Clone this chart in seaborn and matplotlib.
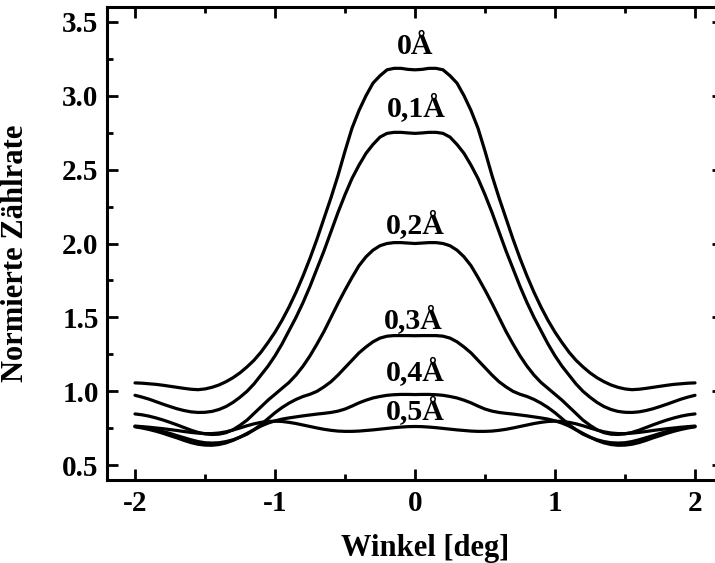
import numpy as np
import pandas as pd
import matplotlib
matplotlib.use("Agg")
import matplotlib.pyplot as plt
import seaborn as sns
from matplotlib.ticker import MultipleLocator

# ---------------- data ----------------
angle = [round(-2.0 + 0.05 * i, 2) for i in range(81)]

amp_labels = ["0Å", "0,1Å", "0,2Å", "0,3Å", "0,4Å", "0,5Å"]

rate_00 = [1.057, 1.055, 1.051, 1.047, 1.041, 1.034, 1.027, 1.02, 1.014, 1.011,
           1.016, 1.027, 1.043, 1.065, 1.092, 1.125, 1.165, 1.21, 1.265, 1.33,
           1.40, 1.48, 1.57, 1.67, 1.78, 1.90, 2.03, 2.17, 2.31, 2.46,
           2.625, 2.78, 2.90, 3.00, 3.085, 3.135, 3.175, 3.185, 3.185, 3.178,
           3.175,
           3.178, 3.185, 3.185, 3.175, 3.135, 3.085, 3.00, 2.90, 2.78, 2.625,
           2.46, 2.31, 2.17, 2.03, 1.90, 1.78, 1.67, 1.57, 1.48, 1.40,
           1.33, 1.265, 1.21, 1.165, 1.125, 1.092, 1.065, 1.043, 1.027, 1.016,
           1.011, 1.014, 1.02, 1.027, 1.034, 1.041, 1.047, 1.051, 1.055, 1.057]
rate_01 = [0.973, 0.961, 0.947, 0.93, 0.913, 0.897, 0.882, 0.87, 0.861, 0.857,
           0.858, 0.864, 0.877, 0.897, 0.925, 0.96, 1.00, 1.05, 1.11, 1.17,
           1.24, 1.32, 1.41, 1.50, 1.60, 1.71, 1.83, 1.95, 2.08, 2.21,
           2.33, 2.44, 2.53, 2.61, 2.67, 2.72, 2.745, 2.752, 2.752, 2.748,
           2.745,
           2.748, 2.752, 2.752, 2.745, 2.72, 2.67, 2.61, 2.53, 2.44, 2.33,
           2.21, 2.08, 1.95, 1.83, 1.71, 1.60, 1.50, 1.41, 1.32, 1.24,
           1.17, 1.11, 1.05, 1.00, 0.96, 0.925, 0.897, 0.877, 0.864, 0.858,
           0.857, 0.861, 0.87, 0.882, 0.897, 0.913, 0.93, 0.947, 0.961, 0.973]
rate_02 = [0.847, 0.841, 0.832, 0.82, 0.806, 0.79, 0.773, 0.755, 0.737, 0.722,
           0.712, 0.708, 0.71, 0.72, 0.74, 0.77, 0.805, 0.85, 0.895, 0.94,
           0.98, 1.02, 1.06, 1.11, 1.17, 1.24, 1.32, 1.405, 1.50, 1.595,
           1.685, 1.77, 1.85, 1.91, 1.955, 1.985, 2.0, 2.006, 2.006, 2.003,
           2.0,
           2.003, 2.006, 2.006, 2.0, 1.985, 1.955, 1.91, 1.85, 1.77, 1.685,
           1.595, 1.50, 1.405, 1.32, 1.24, 1.17, 1.11, 1.06, 1.02, 0.98,
           0.94, 0.895, 0.85, 0.805, 0.77, 0.74, 0.72, 0.71, 0.708, 0.712,
           0.722, 0.737, 0.755, 0.773, 0.79, 0.806, 0.82, 0.832, 0.841, 0.847]
rate_03 = [0.762, 0.757, 0.75, 0.74, 0.728, 0.715, 0.70, 0.686, 0.672, 0.66,
           0.652, 0.65, 0.652, 0.66, 0.672, 0.69, 0.71, 0.74, 0.775, 0.815,
           0.855, 0.89, 0.92, 0.945, 0.965, 0.98, 1.00, 1.03, 1.065, 1.11,
           1.16, 1.21, 1.26, 1.30, 1.335, 1.36, 1.373, 1.377, 1.377, 1.377,
           1.376,
           1.377, 1.377, 1.377, 1.373, 1.36, 1.335, 1.30, 1.26, 1.21, 1.16,
           1.11, 1.065, 1.03, 1.00, 0.98, 0.965, 0.945, 0.92, 0.89, 0.855,
           0.815, 0.775, 0.74, 0.71, 0.69, 0.672, 0.66, 0.652, 0.65, 0.652,
           0.66, 0.672, 0.686, 0.70, 0.715, 0.728, 0.74, 0.75, 0.757, 0.762]
rate_04 = [0.76, 0.752, 0.742, 0.73, 0.716, 0.70, 0.685, 0.668, 0.653, 0.642,
           0.636, 0.635, 0.64, 0.651, 0.668, 0.69, 0.715, 0.74, 0.765, 0.785,
           0.80, 0.812, 0.82, 0.827, 0.834, 0.84, 0.846, 0.851, 0.857, 0.866,
           0.88, 0.90, 0.922, 0.94, 0.955, 0.965, 0.973, 0.977, 0.979, 0.979,
           0.978,
           0.979, 0.979, 0.977, 0.973, 0.965, 0.955, 0.94, 0.922, 0.90, 0.88,
           0.866, 0.857, 0.851, 0.846, 0.84, 0.834, 0.827, 0.82, 0.812, 0.80,
           0.785, 0.765, 0.74, 0.715, 0.69, 0.668, 0.651, 0.64, 0.635, 0.636,
           0.642, 0.653, 0.668, 0.685, 0.70, 0.716, 0.73, 0.742, 0.752, 0.76]
rate_05 = [0.765, 0.761, 0.757, 0.752, 0.747, 0.741, 0.735, 0.728, 0.722, 0.717,
           0.714, 0.714, 0.718, 0.726, 0.738, 0.752, 0.767, 0.78, 0.79, 0.796,
           0.798, 0.796, 0.79, 0.782, 0.772, 0.762, 0.752, 0.743, 0.736, 0.731,
           0.729, 0.729, 0.731, 0.735, 0.739, 0.744, 0.749, 0.754, 0.758, 0.761,
           0.762,
           0.761, 0.758, 0.754, 0.749, 0.744, 0.739, 0.735, 0.731, 0.729, 0.729,
           0.731, 0.736, 0.743, 0.752, 0.762, 0.772, 0.782, 0.79, 0.796, 0.798,
           0.796, 0.79, 0.78, 0.767, 0.752, 0.738, 0.726, 0.718, 0.714, 0.714,
           0.717, 0.722, 0.728, 0.735, 0.741, 0.747, 0.752, 0.757, 0.761, 0.765]

label_x = [0.0, 0.01, 0.0, -0.01, 0.005, 0.005]
label_y = [3.284, 2.855, 2.063, 1.419, 1.068, 0.808]

xticks = [-2, -1, 0, 1, 2]
xtick_labels = ["-2", "-1", "0", "1", "2"]
yticks = [0.5, 1.0, 1.5, 2.0, 2.5, 3.0, 3.5]
ytick_labels = ["0.5", "1.0", "1.5", "2.0", "2.5", "3.0", "3.5"]

series = [rate_00, rate_01, rate_02, rate_03, rate_04, rate_05]
df = pd.concat(
    [pd.DataFrame({"Winkel": angle, "Rate": s, "Amp": lab})
     for s, lab in zip(series, amp_labels)],
    ignore_index=True,
)

# ---------------- style ----------------
sns.set_style("ticks")
plt.rcParams["font.family"] = ["Liberation Serif", "DejaVu Serif"]
plt.rcParams["font.weight"] = "bold"
plt.rcParams["axes.unicode_minus"] = False
plt.rcParams["text.color"] = "black"
plt.rcParams["axes.labelcolor"] = "black"
plt.rcParams["xtick.color"] = "black"
plt.rcParams["ytick.color"] = "black"

fig = plt.figure(figsize=(7.15, 5.63), dpi=100)
ax = fig.add_axes([107 / 715, 1 - 480 / 563, 616 / 715, 473 / 563])

sns.lineplot(data=df, x="Winkel", y="Rate", hue="Amp",
             palette=["black"] * len(amp_labels), linewidth=2.3,
             legend=False, ax=ax, sort=False)

ax.set_xlim(-2.2, 2.2)
ax.set_ylim(0.4, 3.6)

ax.set_xticks(xticks)
ax.set_xticklabels(xtick_labels)
ax.set_yticks(yticks)
ax.set_yticklabels(ytick_labels)
ax.xaxis.set_minor_locator(MultipleLocator(0.5))
ax.yaxis.set_minor_locator(MultipleLocator(0.25))

ax.tick_params(which="both", direction="in", top=True, right=True,
               width=2.0, colors="black", labelsize=21)
ax.tick_params(which="major", length=8)
ax.tick_params(which="minor", length=4.5)
ax.tick_params(axis="x", which="major", pad=7)
ax.tick_params(axis="y", which="major", pad=6)
for lab in ax.get_xticklabels() + ax.get_yticklabels():
    lab.set_fontweight("bold")
    lab.set_color("black")

for sp in ax.spines.values():
    sp.set_visible(True)
    sp.set_linewidth(2.2)
    sp.set_color("black")

ax.set_xlabel("Winkel [deg]", fontsize=22, fontweight="bold", color="black")
ax.set_ylabel("Normierte Zählrate", fontsize=22, fontweight="bold", color="black")
ax.xaxis.set_label_coords((425 - 107) / 616, -0.115)
ax.yaxis.set_label_coords(-0.125, 0.48)

for lab, lx, ly in zip(amp_labels, label_x, label_y):
    ax.text(lx, ly, lab, ha="center", va="baseline", fontsize=21.5,
            fontweight="bold", color="black")

fig.savefig("out.png", dpi=100)
